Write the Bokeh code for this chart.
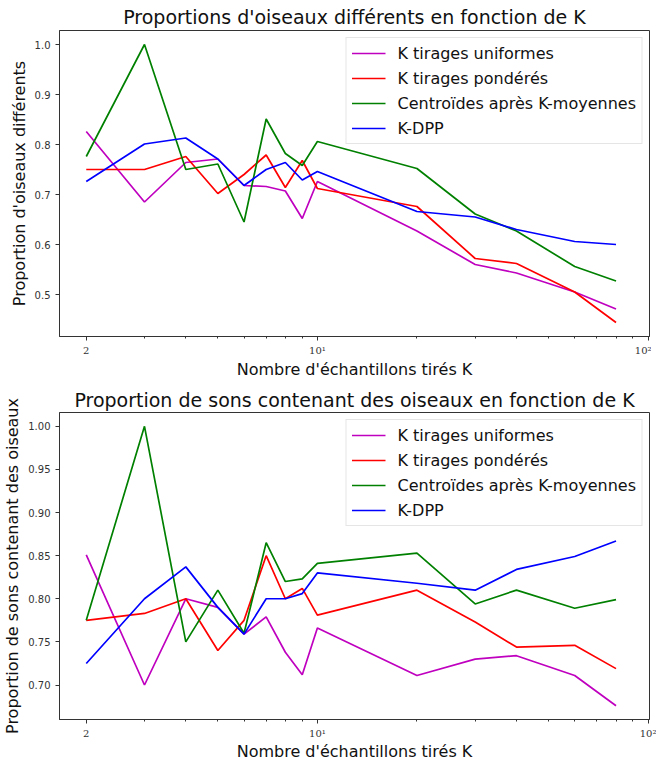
from bokeh.plotting import figure
from bokeh.models import FixedTicker, Range1d, Legend, LegendItem
from bokeh.layouts import column
from bokeh.embed import file_html
from bokeh.resources import INLINE

K = [2, 3, 4, 5, 6, 7, 8, 9, 10, 20, 30, 40, 60, 80]

series_names = ["K tirages uniformes", "K tirages pondérés",
                "Centroïdes après K-moyennes", "K-DPP"]
series_colors = ["#bf00bf", "#ff0000", "#008000", "#0000ff"]

# Top chart: proportion of different birds
top_uniform = [0.826, 0.685, 0.764, 0.771, 0.718, 0.716, 0.707, 0.652, 0.726,
               0.627, 0.560, 0.543, 0.505, 0.471]
top_weighted = [0.750, 0.750, 0.776, 0.702, 0.740, 0.779, 0.714, 0.768, 0.712,
                0.676, 0.572, 0.562, 0.505, 0.444]
top_kmeans = [0.776, 1.000, 0.750, 0.761, 0.645, 0.851, 0.782, 0.758, 0.806,
              0.752, 0.661, 0.627, 0.556, 0.527]
top_kdpp = [0.726, 0.801, 0.813, 0.771, 0.718, 0.750, 0.764, 0.729, 0.746,
            0.666, 0.655, 0.630, 0.606, 0.600]

# Bottom chart: proportion of sounds containing birds
bot_uniform = [0.851, 0.700, 0.800, 0.790, 0.759, 0.779, 0.738, 0.712, 0.766,
               0.711, 0.730, 0.734, 0.711, 0.676]
bot_weighted = [0.775, 0.783, 0.800, 0.740, 0.775, 0.850, 0.800, 0.812, 0.781,
                0.810, 0.773, 0.744, 0.746, 0.719]
bot_kmeans = [0.775, 1.000, 0.750, 0.810, 0.760, 0.865, 0.820, 0.823, 0.841,
              0.853, 0.794, 0.810, 0.789, 0.799]
bot_kdpp = [0.725, 0.800, 0.837, 0.790, 0.759, 0.800, 0.800, 0.806, 0.830,
            0.818, 0.810, 0.834, 0.849, 0.867]

x_major_ticks = [2, 10, 100]
x_major_labels = ["2", "10¹", "10²"]
x_minor_ticks = [3, 4, 5, 6, 7, 8, 9, 20, 30, 40, 50, 60, 70, 80, 90]

top_yticks = [0.5, 0.6, 0.7, 0.8, 0.9, 1.0]
top_ylabels = ["0.5", "0.6", "0.7", "0.8", "0.9", "1.0"]
bot_yticks = [0.70, 0.75, 0.80, 0.85, 0.90, 0.95, 1.00]
bot_ylabels = ["0.70", "0.75", "0.80", "0.85", "0.90", "0.95", "1.00"]

FONT = "DejaVu Sans"


def make_plot(title, ylabel, data, yticks, ylabels, yrange, frame_h, b_top,
              b_bottom, title_standoff, xlabel_standoff):
    p = figure(frame_width=590, frame_height=frame_h, x_axis_type="log",
               x_range=Range1d(1.66, 101), y_range=Range1d(*yrange),
               output_backend="svg", toolbar_location=None,
               min_border_left=54, min_border_right=7,
               min_border_top=b_top, min_border_bottom=b_bottom)
    p.title.text = title
    p.title.text_font = FONT
    p.title.text_font_size = "19px"
    p.title.text_font_style = "normal"
    p.title.align = "center"
    p.title.standoff = title_standoff
    p.title.text_color = "#111111"
    p.xgrid.visible = False
    p.ygrid.visible = False
    p.outline_line_color = "#333333"
    p.outline_line_width = 1
    p.background_fill_color = "white"
    p.border_fill_color = "white"

    xa = p.xaxis[0]
    xa.ticker = FixedTicker(ticks=x_major_ticks, minor_ticks=x_minor_ticks)
    xa.major_label_overrides = {t: l for t, l in zip(x_major_ticks, x_major_labels)}
    xa.axis_label = "Nombre d'échantillons tirés K"
    xa.axis_label_text_font = FONT
    xa.axis_label_text_font_size = "16px"
    xa.axis_label_text_font_style = "normal"
    xa.axis_label_text_color = "#111111"
    xa.axis_label_standoff = xlabel_standoff
    xa.major_label_text_font = "DejaVu Serif"
    xa.major_label_text_font_size = "10px"
    xa.major_label_text_color = "#333333"
    xa.major_label_standoff = 4

    ya = p.yaxis[0]
    ya.ticker = FixedTicker(ticks=yticks)
    ya.major_label_overrides = {t: l for t, l in zip(yticks, ylabels)}
    ya.axis_label = ylabel
    ya.axis_label_text_font = FONT
    ya.axis_label_text_font_size = "16px"
    ya.axis_label_text_font_style = "normal"
    ya.axis_label_text_color = "#111111"
    ya.axis_label_standoff = 3
    ya.major_label_text_font = FONT
    ya.major_label_text_font_size = "10px"
    ya.major_label_text_color = "#333333"
    ya.major_label_standoff = 5

    for ax in (xa, ya):
        ax.axis_line_color = "#333333"
        ax.major_tick_line_color = "#333333"
        ax.major_tick_out = 4
        ax.major_tick_in = 0
        ax.minor_tick_out = 2
        ax.minor_tick_in = 0
    xa.minor_tick_line_color = "#333333"
    ya.minor_tick_line_color = None

    items = []
    for name, color, vals in zip(series_names, series_colors, data):
        r = p.line(K, vals, line_color=color, line_width=1.7)
        items.append(LegendItem(label=name, renderers=[r]))

    leg = Legend(items=items, location="top_right")
    leg.label_text_font = FONT
    leg.label_text_font_size = "16px"
    leg.label_text_color = "#111111"
    leg.glyph_width = 34
    leg.glyph_height = 20
    leg.label_height = 20
    leg.label_standoff = 12
    leg.spacing = 5
    leg.padding = 5
    leg.margin = 7
    leg.border_line_color = "#cccccc"
    leg.border_line_width = 1
    leg.background_fill_color = "white"
    leg.background_fill_alpha = 0.8
    p.add_layout(leg, "center")
    return p


p1 = make_plot("Proportions d'oiseaux différents en fonction de K",
               "Proportion d'oiseaux différents",
               [top_uniform, top_weighted, top_kmeans, top_kdpp],
               top_yticks, top_ylabels, (0.416, 1.028), 306, 27, 48, 6, 1)
p2 = make_plot("Proportion de sons contenant des oiseaux en fonction de K",
               "Proportion de sons contenant des oiseaux",
               [bot_uniform, bot_weighted, bot_kmeans, bot_kdpp],
               bot_yticks, bot_ylabels, (0.660, 1.016), 307, 28, 32, 3, 0)

layout = column(p1, p2, spacing=0)
open("out.html", "w").write(file_html(layout, INLINE))
